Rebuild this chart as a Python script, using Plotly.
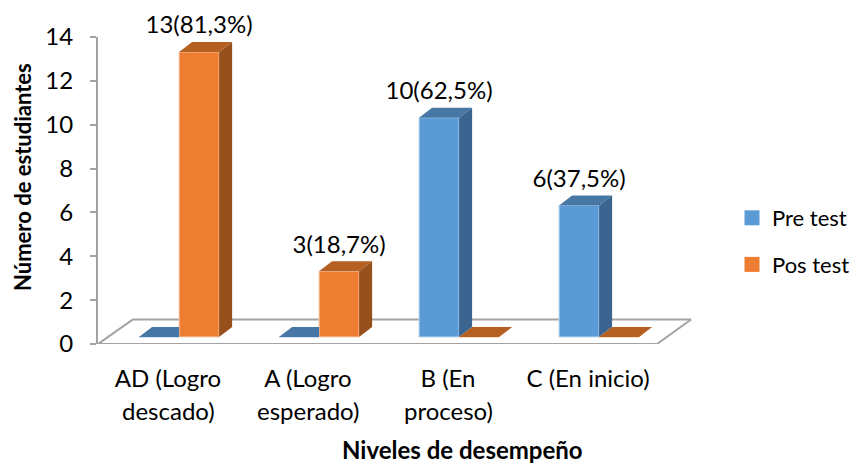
import plotly.graph_objects as go

first_lines = ["AD (Logro", "A (Logro", "B (En", "C (En inicio)"]
second_lines = ["descado)", "esperado)", "proceso)", ""]
pre_test = [0, 0, 10, 6]
pos_test = [13, 3, 0, 0]
pre_labels = ["", "", "10(62,5%)", "6(37,5%)"]
pos_labels = ["13(81,3%)", "3(18,7%)", "", ""]
y_ticks = [0, 2, 4, 6, 8, 10, 12, 14]

FONT = "Lato"
GRAY = "#A3A3A3"
BASE = 0.32        # the bars stand on the floor, a little above the axis zero
DX, DY = 0.093, 0.456   # oblique depth, in axis units
W = 0.286
OFFS = [-0.207, 0.079]
TXT = 24
LIFT = 0.12

series = [
    dict(name="Pre test", vals=pre_test, labels=pre_labels, off=OFFS[0],
         front="#5B9BD5", top="#4677A5", side="#3B6590", edge="#BBD5EE"),
    dict(name="Pos test", vals=pos_test, labels=pos_labels, off=OFFS[1],
         front="#ED7D31", top="#B65F22", side="#97501C", edge="#F8CDAE"),
]
cats = list(range(len(first_lines)))

fig = go.Figure()


def poly(xs, ys, color):
    fig.add_trace(go.Scatter(x=xs + xs[:1], y=ys + ys[:1], mode="lines", fill="toself",
                             fillcolor=color, line=dict(width=0), hoverinfo="skip",
                             showlegend=False))


for k, s in enumerate(series):
    xl = [c + s["off"] for c in cats]
    fig.add_trace(go.Bar(x=[a + W / 2 for a in xl], y=s["vals"], base=BASE, width=W,
                         marker=dict(color=s["front"], line=dict(color=s["edge"], width=1)),
                         name=s["name"], showlegend=False, hoverinfo="skip"))

for k, s in enumerate(series):
    for c, v in zip(cats, s["vals"]):
        l = c + s["off"]
        r = l + W
        t = BASE + v
        other = series[1 - k]["vals"][c]
        back_r = r if (v == 0 and k == 0 and other > 0) else r + DX
        poly([l, r, back_r, l + DX], [t, t, t + DY, t + DY], s["top"])
        if v > 0:
            poly([r, r + DX, r + DX, r], [BASE, BASE + DY, t + DY, t], s["side"])

for s in series:
    xs = [c + s["off"] + W / 2 for c, v in zip(cats, s["vals"]) if v > 0]
    ys = [BASE + v + DY + LIFT for v in s["vals"] if v > 0]
    tx = [t for t, v in zip(s["labels"], s["vals"]) if v > 0]
    fig.add_trace(go.Scatter(x=xs, y=ys, mode="text", text=tx, textposition="top center",
                             textfont=dict(family=FONT, size=TXT, color="black"),
                             cliponaxis=False, showlegend=False, hoverinfo="skip"))

for i, s in enumerate(series):
    fig.add_trace(go.Scatter(x=[None], y=[None], mode="markers", name=s["name"],
                             legendgroup=s["name"],
                             marker=dict(symbol="square", size=15, color=s["front"])))

# floor frame
line = dict(color=GRAY, width=2)
x0, x1 = -0.5, 3.493
bx0, bx1 = -0.25, 3.736
by = 1.12
shapes = [
    dict(type="line", xref="x", yref="y", x0=x0, x1=bx0, y0=0, y1=by, line=line, layer="below"),
    dict(type="line", xref="x", yref="y", x0=bx0, x1=bx1, y0=by, y1=by, line=line, layer="below"),
    dict(type="line", xref="x", yref="y", x0=bx1, x1=x1, y0=by, y1=0, line=line, layer="below"),
    dict(type="line", xref="x", yref="y", x0=x0, x1=x1, y0=0, y1=0, line=line, layer="below"),
]

# paper coordinates for the two axis titles
pw, ph = 597, 307
annotations = [
    dict(text=t, x=c, y=0, xref="x", yref="y", yshift=-66, yanchor="middle", showarrow=False,
         font=dict(family=FONT, size=TXT, color="black"))
    for c, t in zip(cats, second_lines) if t
]
annotations += [
    dict(text="<b>Niveles de desempeño</b>", x=(463 - 98) / pw, y=(344 - 449) / ph,
         xref="paper", yref="paper", showarrow=False, xanchor="center", yanchor="middle",
         font=dict(family=FONT, size=24, color="black")),
    dict(text="<b>Número de estudiantes</b>", x=(22 - 98) / pw, y=(344 - 177) / ph,
         xref="paper", yref="paper", showarrow=False, xanchor="center", yanchor="middle",
         textangle=-90, font=dict(family=FONT, size=22, color="black")),
]

fig.update_layout(
    width=852, height=456, autosize=False,
    margin=dict(l=90, r=165, t=29, b=120, autoexpand=False),
    paper_bgcolor="white", plot_bgcolor="rgba(0,0,0,0)",
    barmode="overlay", shapes=shapes, annotations=annotations,
    font=dict(family=FONT, size=TXT, color="black"),
    legend=dict(x=(732 - 98) / pw, y=(344 - 197) / ph, xanchor="left", yanchor="top",
                tracegroupgap=15, font=dict(family=FONT, size=22, color="black"),
                bgcolor="rgba(0,0,0,0)"),
    xaxis=dict(range=[-0.5, 3.764], tickmode="array", tickvals=cats, ticktext=first_lines,
               showgrid=False, zeroline=False, showline=False, ticks="", ticklabelstandoff=18,
               tickfont=dict(family=FONT, size=TXT, color="black")),
    yaxis=dict(range=[0, 14], tickmode="array", tickvals=y_ticks, showgrid=False, zeroline=False,
               showline=True, linecolor=GRAY, linewidth=2, ticks="outside", ticklen=6,
               tickcolor=GRAY, tickwidth=1.5, ticklabelstandoff=12,
               tickfont=dict(family=FONT, size=TXT, color="black")),
)

fig.write_html("out.html")
